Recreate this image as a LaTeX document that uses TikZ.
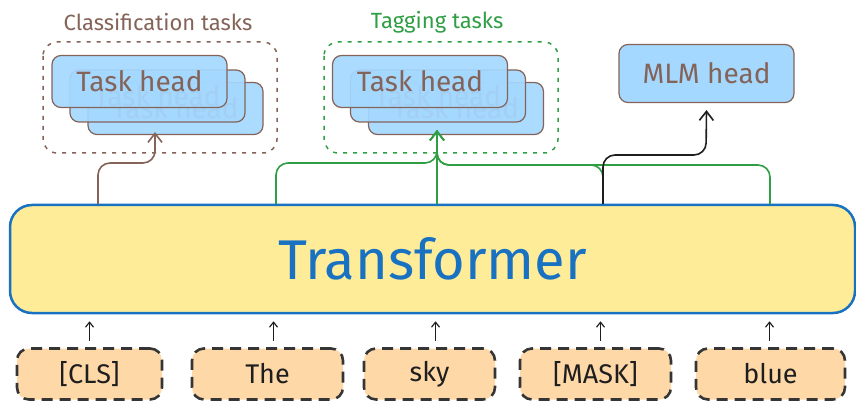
\documentclass[tikz,border=0pt]{standalone}
\usepackage{fontspec}
\setmainfont{Fira Sans}
\usetikzlibrary{arrows.meta}
\definecolor{brn}{HTML}{846358}
\definecolor{hblue}{HTML}{A5D8FF}
\definecolor{tblue}{HTML}{1971C2}
\definecolor{tyel}{HTML}{FFEC99}
\definecolor{peach}{HTML}{FFD8A8}
\definecolor{dk}{HTML}{1E1E1E}
\definecolor{grn}{HTML}{2F9E44}
\begin{document}
\begin{tikzpicture}[x=1pt,y=-1pt,
  headbox/.style={draw=brn, line width=1.2pt, fill=hblue, fill opacity=0.93, text opacity=1, rounded corners=9pt,
    minimum width=175pt, minimum height=52pt, inner sep=0pt, text=brn, font=\fontsize{28}{32}\selectfont},
  tokbox/.style={draw=dk!90, dash pattern=on 11pt off 7pt, line width=2.6pt, fill=peach, rounded corners=12pt,
    minimum height=51pt, inner sep=0pt, text=dk, font=\fontsize{27}{32}\selectfont},
  groupbox/.style={line width=1.5pt, dash pattern=on 4pt off 6pt, rounded corners=14pt},
  grplabel/.style={font=\fontsize{22}{26}\selectfont},
  bigtip/.style={-{Straight Barb[length=9pt,width=14pt,line width=1.6pt]}, line width=1.6pt, rounded corners=12pt},
  toktip/.style={-{Straight Barb[length=5pt,width=8pt,line width=1.2pt]}, line width=1.3pt, dk}
]
\useasboundingbox (0,0) rectangle (856,403);

% Transformer
\node[draw=tblue, line width=2.5pt, fill=tyel, rounded corners=22pt, minimum width=845pt, minimum height=108pt,
  text=tblue, font=\fontsize{56}{60}\selectfont] (T) at (432.5,259) {Transformer};

% Tokens
\node[tokbox, minimum width=145pt] (i1) at (89.5,374) {[CLS]};
\node[tokbox, minimum width=151pt] (i2) at (267.5,374) {The};
\node[tokbox, minimum width=131pt] (i3) at (429.5,374) {sky};
\node[tokbox, minimum width=151pt] (i4) at (595.5,374) {[MASK]};
\node[tokbox, minimum width=149pt] (i5) at (770.5,374) {blue};

\draw[toktip, shorten <=6pt, shorten >=7pt] (i1.north) -- (i1.north |- T.south);
\draw[toktip, shorten <=6pt, shorten >=7pt] ([xshift=6pt]i2.north) -- ([xshift=6pt]i2.north |- T.south);
\draw[toktip, shorten <=6pt, shorten >=7pt] ([xshift=6pt]i3.north) -- ([xshift=6pt]i3.north |- T.south);
\draw[toktip, shorten <=6pt, shorten >=7pt] ([xshift=5pt]i4.north) -- ([xshift=5pt]i4.north |- T.south);
\draw[toktip, shorten <=6pt, shorten >=7pt] ([xshift=-1pt]i5.north) -- ([xshift=-1pt]i5.north |- T.south);

% Classification group
\node[grplabel, text=brn] (cl) at (158,22) {Classification tasks};
\draw[groupbox, draw=brn] (43,42) rectangle (277,153);
\node[headbox] (c3) at (175.5,108.5) {Task head};
\node[headbox] (c2) at (157.5,96) {Task head};
\node[headbox] (c1) at (139.5,81.5) {Task head};

% Tagging group
\node[grplabel, text=grn] (tl) at (437,22) {Tagging tasks};
\draw[groupbox, draw=grn] (324,42) rectangle (558,153);
\node[headbox] (t3) at (456,108.5) {Task head};
\node[headbox] (t2) at (438,96) {Task head};
\node[headbox] (t1) at (420,81.5) {Task head};

% MLM head
\node[headbox, fill opacity=1, minimum height=58pt] (m) at (706.5,73.5) {MLM head};

% Start points on the Transformer's top
\coordinate (s1) at (98,204);
\coordinate (s2) at (276,204);
\coordinate (s3) at (437,204);
\coordinate (s4) at (603,204);
\coordinate (s5) at (770,204);

% Connectors
\draw[bigtip, brn] (s1) |- (155,163) -- ([xshift=-20.5pt,yshift=3pt]c3.south);
\draw[bigtip, grn] (s2) |- (437,163) -- ([xshift=-19pt,yshift=5pt]t3.south);
\draw[bigtip, grn] (s5) |- (437,165) -- ([xshift=-19pt,yshift=5pt]t3.south);
\draw[bigtip, grn] (s4) |- (437,165) -- ([xshift=-19pt,yshift=5pt]t3.south);
\draw[bigtip, grn] (s3) -- ([xshift=-19pt,yshift=5pt]t3.south);
\draw[bigtip, dk] (s4) |- (706,155) -- ([yshift=-7pt]m.south);
\end{tikzpicture}
\end{document}
